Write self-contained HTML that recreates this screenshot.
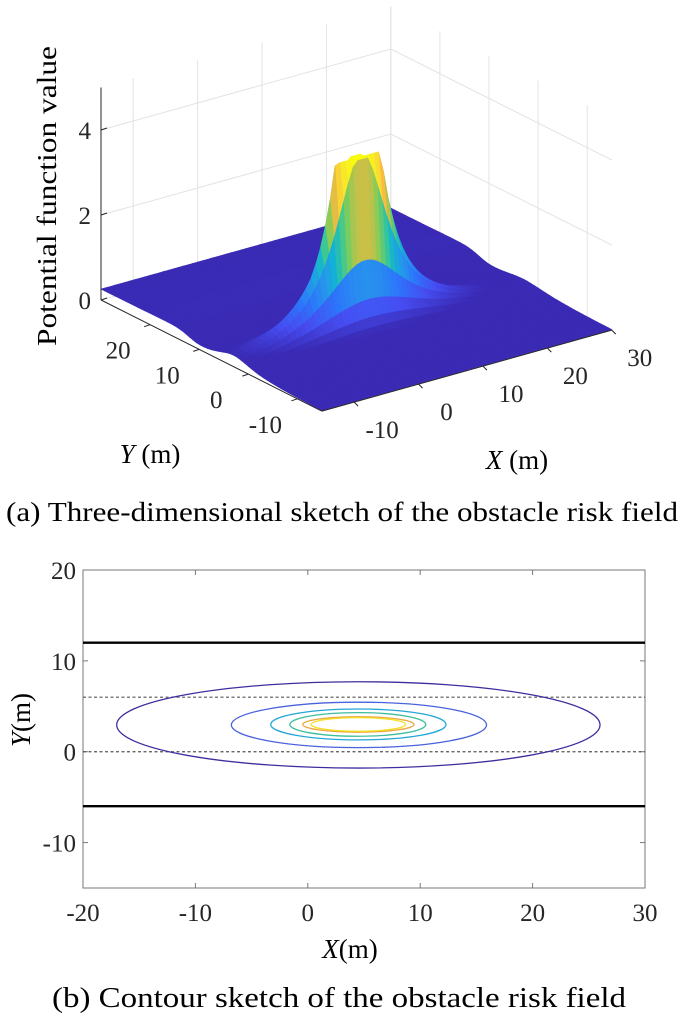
<!DOCTYPE html>
<html><head><meta charset="utf-8">
<style>
html,body{margin:0;padding:0;background:#fff;}
svg, svg text{font-family:"Liberation Serif","Times New Roman",Times,serif;}
</style></head>
<body>
<svg id="fig" width="685" height="1016" viewBox="0 0 685 1016" xmlns="http://www.w3.org/2000/svg" font-family="Liberation Serif, Times New Roman, serif">
<g id="surf3d"></g>
<g id="cont"></g>
<text x="6" y="521" font-size="27" textLength="672" lengthAdjust="spacingAndGlyphs">(a) Three-dimensional sketch of the obstacle risk field</text>
<text x="52" y="1007" font-size="28" textLength="574" lengthAdjust="spacingAndGlyphs">(b) Contour sketch of the obstacle risk field</text>
</svg>
<script>
// ---------- data ----------
const xTicks3d = [-10, 0, 10, 20, 30];
const yTicks3d = [20, 10, 0, -10];
const zTicks3d = [0, 2, 4];
const peakParams = [4.3, 3, 8, 3.6, 0.8, 4.1]; // centerX, centerY, amplitude, spreadX, spreadY, cap
const boundaryStep = [12, 0.25, 1.2]; // Y position, height, width

const xTicksC = [-20, -10, 0, 10, 20, 30];
const yTicksC = [20, 10, 0, -10];
const laneSolid = [12, -6];
const laneDashed = [6, 0];
const contourCx = [4.5, 4.55, 4.5, 4.45, 4.5, 4.5];
const contourCy = [2.95, 2.95, 3.0, 3.0, 3.0, 3.0];
const contourRx = [21.5, 11.35, 7.8, 6.05, 4.95, 4.2];
const contourRy = [4.75, 2.5, 1.7, 1.3, 0.85, 0.75];
const contourColors = ['#3d2e9e', '#4a62dc', '#23a6d6', '#3dbd9c', '#e8a83c', '#f5df22'];

const NS = 'http://www.w3.org/2000/svg';
function mk(tag, attrs, parent) {
  const e = document.createElementNS(NS, tag);
  for (const k in attrs) e.setAttribute(k, attrs[k]);
  parent.appendChild(e);
  return e;
}

// ---------- 3D surface ----------
const g3 = document.getElementById('surf3d');
const XMIN = -15, XMAX = 30, YMIN = -15, YMAX = 30, ZTOP = 5;
function P(X, Y, Z) {
  return [101 + (X - XMIN) * 6.44 + (YMAX - Y) * 4.91,
          300 - (X - XMIN) * 1.8 + (YMAX - Y) * 2.47 - Z * 42.5];
}
function fz(X, Y) {
  const [cx, cy, A, sx, sy, cap] = peakParams;
  const dx = (X - cx) / sx, dy = (Y - cy) / sy;
  let z = Math.min(cap, A / (1 + dx * dx + dy * dy));
  z += boundaryStep[1] / (1 + Math.exp(-(Y - boundaryStep[0]) / boundaryStep[2]));
  return z;
}
const parula = [[58,42,180],[70,78,242],[44,118,250],[39,150,235],[18,177,214],[55,200,151],[129,204,89],[204,191,70],[251,188,65],[248,229,46],[249,251,14]];
function cmap(t) {
  t = Math.max(0, Math.min(1, t)) * 10;
  const i = Math.min(9, Math.floor(t)), f = t - i;
  const a = parula[i], b = parula[i + 1];
  return 'rgb(' + a.map((v, k) => Math.round(v + (b[k] - v) * f)).join(',') + ')';
}
function pts(arr) { return arr.map(p => p[0].toFixed(1) + ',' + p[1].toFixed(1)).join(' '); }

// walls grid
const gridG = mk('g', {}, g3);


const gs = {stroke: '#e3e3e3', 'stroke-width': 1, fill: 'none'};
xTicks3d.concat([XMAX]).forEach(x => {
  const a = P(x, YMAX, 0), b = P(x, YMAX, ZTOP);
  mk('line', Object.assign({x1: a[0], y1: a[1], x2: b[0], y2: b[1]}, gs), gridG);
});
yTicks3d.forEach(y => {
  const a = P(XMAX, y, 0), b = P(XMAX, y, ZTOP);
  mk('line', Object.assign({x1: a[0], y1: a[1], x2: b[0], y2: b[1]}, gs), gridG);
});
zTicks3d.forEach(z => {
  const a = P(XMIN, YMAX, z), b = P(XMAX, YMAX, z), c = P(XMAX, YMIN, z);
  mk('polyline', Object.assign({points: pts([a, b, c])}, gs), gridG);
});

// surface quads
const N = 60;
const dX = (XMAX - XMIN) / N, dY = (YMAX - YMIN) / N;
const quads = [];
for (let i = 0; i < N; i++) for (let j = 0; j < N; j++) {
  const x0 = XMIN + i * dX, x1 = x0 + dX, y0 = YMIN + j * dY, y1 = y0 + dY;
  const zs = [fz(x0, y0), fz(x1, y0), fz(x1, y1), fz(x0, y1)];
  quads.push({d: x0 + y0, c: [P(x0, y0, zs[0]), P(x1, y0, zs[1]), P(x1, y1, zs[2]), P(x0, y1, zs[3])], z: (zs[0] + zs[1] + zs[2] + zs[3]) / 4});
}
quads.sort((a, b) => b.d - a.d);
const surfG = mk('g', {}, g3);


quads.forEach(q => {
  const col = cmap((q.z - 0.25) / 3.85);
  mk('polygon', {points: pts(q.c), fill: col, stroke: col, 'stroke-width': 0.6}, surfG);
});

// axes
const axG = mk('g', {stroke: '#262626', 'stroke-width': 1, fill: 'none'}, g3);


let a = P(XMIN, YMAX, 0), b = P(XMIN, YMAX, ZTOP);
mk('line', {x1: a[0], y1: a[1], x2: b[0], y2: b[1]}, axG);
a = P(XMIN, YMAX, 0); b = P(XMIN, YMIN, 0);
mk('line', {x1: a[0], y1: a[1], x2: b[0], y2: b[1]}, axG);
a = P(XMIN, YMIN, 0); b = P(XMAX, YMIN, 0);
mk('line', {x1: a[0], y1: a[1], x2: b[0], y2: b[1]}, axG);
const tG = mk('g', {'font-size': 25, fill: '#262626'}, g3);


zTicks3d.forEach(z => {
  const p = P(XMIN, YMAX, z);
  mk('line', {x1: p[0], y1: p[1], x2: p[0] + 6, y2: p[1] - 2}, axG);
  const t = mk('text', {x: p[0] - 10, y: p[1] + 9, 'text-anchor': 'end'}, tG);
  t.textContent = z;
});
yTicks3d.forEach(y => {
  const p = P(XMIN, y, 0);
  mk('line', {x1: p[0], y1: p[1], x2: p[0] - 6, y2: p[1] + 2}, axG);
  const t = mk('text', {x: p[0] - 32, y: p[1] + 34, 'text-anchor': 'middle'}, tG);
  t.textContent = y;
});
xTicks3d.forEach(x => {
  const p = P(x, YMIN, 0);
  mk('line', {x1: p[0], y1: p[1], x2: p[0] + 4, y2: p[1] + 4}, axG);
  const t = mk('text', {x: p[0] + 28, y: p[1] + 36, 'text-anchor': 'middle'}, tG);
  t.textContent = x;
});
const zl = mk('text', {x: 0, y: 0, 'font-size': 27, 'text-anchor': 'middle', transform: 'translate(56,196) rotate(-90)', textLength: 300, lengthAdjust: 'spacingAndGlyphs'}, g3);
zl.textContent = 'Potential function value';


const yl = mk('text', {x: 150, y: 463, 'font-size': 27, 'text-anchor': 'middle'}, g3);
yl.innerHTML = '<tspan font-style="italic">Y</tspan> (m)';


const xl = mk('text', {x: 517, y: 469, 'font-size': 27, 'text-anchor': 'middle'}, g3);
xl.innerHTML = '<tspan font-style="italic">X</tspan> (m)';



// ---------- contour plot ----------
const gc = document.getElementById('cont');
const L = 83, R = 645, T = 570, B = 888;
const cX0 = -20, cX1 = 30, cY0 = -15, cY1 = 20;
const sx = v => L + (v - cX0) / (cX1 - cX0) * (R - L);
const sy = v => B - (v - cY0) / (cY1 - cY0) * (B - T);
const box = mk('rect', {x: L, y: T, width: R - L, height: B - T, fill: '#fff', stroke: '#777', 'stroke-width': 1}, gc);


const ctG = mk('g', {'font-size': 25, fill: '#262626'}, gc);


xTicksC.forEach(v => {
  const x = sx(v);
  mk('line', {x1: x, y1: B, x2: x, y2: B - 5, stroke: '#777'}, gc);
  mk('line', {x1: x, y1: T, x2: x, y2: T + 5, stroke: '#777'}, gc);
  const t = mk('text', {x: x, y: B + 33, 'text-anchor': 'middle'}, ctG);
  t.textContent = v;
});
yTicksC.forEach(v => {
  const y = sy(v);
  mk('line', {x1: L, y1: y, x2: L + 5, y2: y, stroke: '#777'}, gc);
  mk('line', {x1: R, y1: y, x2: R - 5, y2: y, stroke: '#777'}, gc);
  const t = mk('text', {x: L - 7, y: y + 9, 'text-anchor': 'end'}, ctG);
  t.textContent = v;
});
laneSolid.forEach(v => {
  const l = mk('line', {x1: L, y1: sy(v), x2: R, y2: sy(v), stroke: '#000', 'stroke-width': 2.4}, gc);
  
  
});
laneDashed.forEach(v => {
  const l = mk('line', {x1: L, y1: sy(v), x2: R, y2: sy(v), stroke: '#555', 'stroke-width': 1.2, 'stroke-dasharray': '3,2.5'}, gc);
  
  
});
contourRx.forEach((rx, i) => {
  const cx = sx(contourCx[i]), cy = sy(contourCy[i]);
  const e = mk('ellipse', {cx: cx, cy: cy, rx: sx(contourCx[i] + rx) - cx, ry: cy - sy(contourCy[i] + contourRy[i]), fill: 'none', stroke: contourColors[i], 'stroke-width': 1.3}, gc);
  
  
});
const cyl = mk('text', {x: 0, y: 0, 'font-size': 27, 'text-anchor': 'middle', transform: 'translate(30,720) rotate(-90)'}, gc);
cyl.innerHTML = '<tspan font-style="italic">Y</tspan>(m)';


const cxl = mk('text', {x: 350, y: 958, 'font-size': 27, 'text-anchor': 'middle'}, gc);
cxl.innerHTML = '<tspan font-style="italic">X</tspan>(m)';


</script>
</body></html>
